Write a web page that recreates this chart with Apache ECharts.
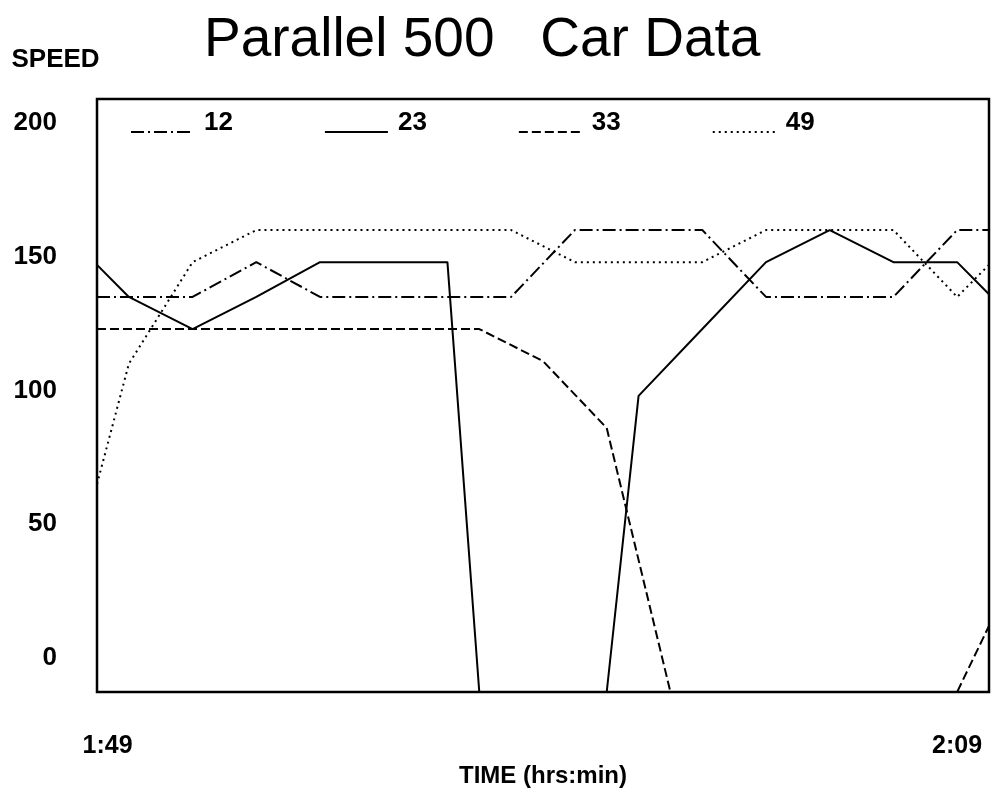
<!DOCTYPE html>
<html>
<head>
<meta charset="utf-8">
<script src="https://cdn.jsdelivr.net/npm/echarts@6/dist/echarts.min.js"></script>
<style>
html,body{margin:0;padding:0;background:#fff}
#c{width:994px;height:795px}
</style>
</head>
<body>
<div id="c"></div>
<script>
// ---- data (time in minutes after 1:49, speed) ----
const seriesNames = ['12', '23', '33', '49'];

const t12 = [-0.25, 0.5, 2, 3.5, 5, 6.5, 8, 9.5, 11, 12.5, 14, 15.5, 17, 18.5, 20, 20.75];
const v12 = [135, 135, 135, 148, 135, 135, 135, 135, 160, 160, 160, 135, 135, 135, 160, 160];

const t23 = [-0.25, 0.5, 2, 3.5, 5, 6.5, 8, 8.75, 11.75, 12.5, 14, 15.5, 17, 18.5, 20, 20.75];
const v23 = [147, 135, 123, 135, 148, 148, 148, -12.7, -12.7, 98, 123, 148, 160, 148, 148, 136];

const t33 = [-0.25, 0.5, 2, 3.5, 5, 6.5, 8, 8.75, 10.25, 11.75, 13.25, 20, 20.75];
const v33 = [123, 123, 123, 123, 123, 123, 123, 123, 111, 86, -12.7, -12.7, 12];

const t49 = [-0.25, 0.5, 2, 3.5, 5, 6.5, 8, 9.5, 11, 12.5, 14, 15.5, 17, 18.5, 20, 20.75];
const v49 = [65, 110, 148, 160, 160, 160, 160, 160, 148, 148, 148, 160, 160, 160, 135, 147];

const yTickLabels = [0, 50, 100, 150, 200];
const xTickValues = [0, 20];
const xTickTexts = ['1:49', '2:09'];

// ---- chart ----
const FONT = '"Liberation Sans", Arial, Helvetica, sans-serif';
const zip = (t, v) => t.map((x, i) => [x, v[i]]);
const dashes = {
  '12': [13, 4, 2, 4],
  '23': 'solid',
  '33': [9, 4],
  '49': [2, 4]
};
const seriesData = { '12': zip(t12, v12), '23': zip(t23, v23), '33': zip(t33, v33), '49': zip(t49, v49) };

const chart = echarts.init(document.getElementById('c'), null, { renderer: 'canvas' });
chart.setOption({
  backgroundColor: '#fff',
  animation: false,
  title: {
    text: 'Parallel 500   Car Data',
    left: 204,
    top: 13,
    padding: 0,
    textStyle: { fontFamily: FONT, fontSize: 55, fontWeight: 'normal', color: '#000' }
  },
  legend: {
    data: seriesNames,
    left: 130,
    top: 110,
    padding: 0,
    itemWidth: 63,
    itemHeight: 14,
    itemGap: 91,
    selectedMode: false,
    itemStyle: { color: 'transparent', borderColor: 'transparent', borderWidth: 0 },
    formatter: name => '{n|' + name + '}',
    textStyle: {
      fontFamily: FONT, fontSize: 26, fontWeight: 'bold', color: '#000',
      rich: {
        n: {
          fontFamily: FONT, fontSize: 26, fontWeight: 'bold', color: '#000',
          lineHeight: 26, padding: [0, 0, 18, 5]
        }
      }
    }
  },
  grid: {
    left: 97, right: 5, top: 99, bottom: 103,
    show: true, borderColor: '#000', borderWidth: 2.5, backgroundColor: 'transparent'
  },
  xAxis: {
    type: 'value',
    min: -0.25,
    max: 20.75,
    axisLine: { show: false },
    axisTick: { show: false },
    splitLine: { show: false },
    axisLabel: {
      margin: 42,
      fontFamily: FONT, fontSize: 25, fontWeight: 'bold', color: '#000',
      formatter: v => {
        const i = xTickValues.indexOf(v);
        return i >= 0 ? xTickTexts[i] : '';
      }
    },
    name: 'TIME (hrs:min)',
    nameLocation: 'middle',
    nameGap: 70,
    nameTextStyle: { fontFamily: FONT, fontSize: 24, fontWeight: 'bold', color: '#000' }
  },
  yAxis: {
    type: 'value',
    min: -12.7,
    max: 209,
    axisLine: { show: false },
    axisTick: { show: false },
    splitLine: { show: false },
    axisLabel: {
      margin: 40,
      fontFamily: FONT, fontSize: 26, fontWeight: 'bold', color: '#000',
      formatter: v => (yTickLabels.indexOf(v) >= 0 ? String(v) : '')
    },
    name: 'SPEED',
    nameLocation: 'end',
    nameGap: 26,
    nameTextStyle: {
      fontFamily: FONT, fontSize: 26, fontWeight: 'bold', color: '#000',
      align: 'right', verticalAlign: 'bottom', padding: [0, 8, 0, 0]
    }
  },
  series: seriesNames.map(n => ({
    name: n,
    type: 'line',
    data: seriesData[n],
    symbol: 'none',
    itemStyle: { color: '#000' },
    lineStyle: { color: '#000', width: 2, type: dashes[n] }
  }))
});
</script>
</body>
</html>
